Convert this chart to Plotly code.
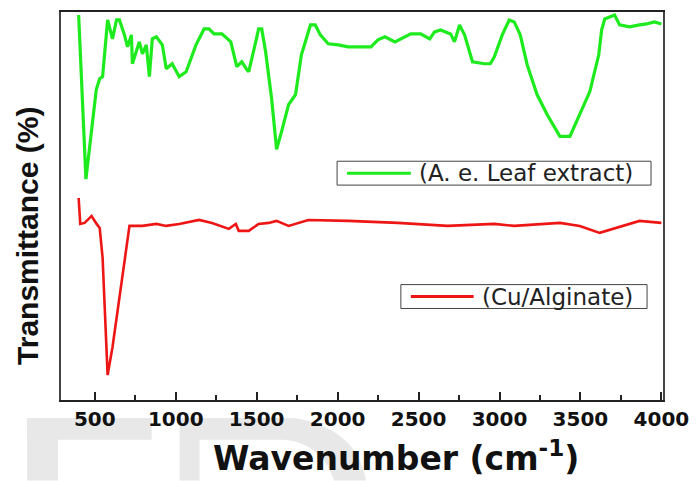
import plotly.graph_objects as go

# ---------------- data ----------------
wn_leaf = [400, 445, 509, 530, 548, 579, 609, 634, 652, 683, 702, 726, 732, 775, 794, 818,
           837, 855, 880, 917, 941, 978, 1021, 1064, 1125, 1175, 1205, 1236, 1285, 1340,
           1377, 1408, 1439, 1451, 1494, 1512, 1531, 1555, 1592, 1623, 1654, 1697, 1740,
           1776, 1832, 1862, 1893, 1942, 2004, 2065, 2145, 2206, 2249, 2292, 2354, 2452,
           2513, 2569, 2599, 2636, 2698, 2722, 2753, 2784, 2833, 2907, 2943, 2968, 3017,
           3060, 3091, 3128, 3171, 3232, 3294, 3373, 3435, 3496, 3558, 3613, 3631, 3650,
           3681, 3711, 3742, 3803, 3865, 3908, 3957, 4000]
t_leaf = [386, 221, 311, 322, 324, 381, 362, 381, 381, 366, 354, 366, 337, 359, 347, 356,
          324, 362, 364, 356, 332, 337, 324, 329, 356, 372, 372, 367, 367, 359,
          334, 339, 331, 329, 359, 372, 372, 349, 302, 251, 269, 296, 306,
          346, 376, 376, 366, 357, 356, 354, 354, 354, 361, 364, 359, 367,
          367, 362, 369, 371, 367, 359, 376, 366, 339, 337, 337, 344, 366,
          381, 379, 366, 336, 306, 286, 264, 264, 286, 309, 346, 371, 382,
          384, 386, 376, 374, 376, 377, 379, 377]

wn_cu = [400, 410, 437, 480, 511, 530, 548, 579, 609, 652, 714, 794, 880, 941, 1021, 1144,
         1224, 1328, 1371, 1389, 1451, 1512, 1574, 1623, 1697, 1819, 2065, 2372, 2679,
         2968, 3091, 3373, 3496, 3619, 3705, 3865, 4000]
t_cu = [202, 176, 177, 184, 176, 172, 142, 24, 52, 102, 174, 174, 176, 174, 176, 180,
        177, 171, 176, 169, 169, 176, 177, 179, 174, 180, 179, 177, 174,
        176, 174, 177, 174, 167, 171, 179, 177]

x_ticks = [500, 1000, 1500, 2000, 2500, 3000, 3500, 4000]
label_leaf = "(A. e. Leaf extract)"
label_cu = "(Cu/Alginate)"
green = "#1EEB1E"
red = "#EE1515"

# ---------------- geometry helpers (pixel -> paper) ----------------
W, H = 699, 481
L, R, T, B = 61, 665, 10, 400
def px(x):
    return (x - L) / (R - L)
def py(y):
    return (B - y) / (B - T)

fig = go.Figure()
fig.add_trace(go.Scatter(x=wn_leaf, y=t_leaf, mode="lines", name=label_leaf,
                         line=dict(color=green, width=3.2), showlegend=False))
fig.add_trace(go.Scatter(x=wn_cu, y=t_cu, mode="lines", name=label_cu,
                         line=dict(color=red, width=2.6), showlegend=False))

shapes = []
# faint watermark shapes at the bottom
wm = "#e8e8e8"
shapes.append(dict(type="rect", xref="paper", yref="paper", layer="below",
                   x0=px(27), x1=px(152), y0=py(418), y1=py(440),
                   fillcolor=wm, line=dict(width=0)))
shapes.append(dict(type="rect", xref="paper", yref="paper", layer="below",
                   x0=px(27), x1=px(58), y0=py(418), y1=py(481),
                   fillcolor=wm, line=dict(width=0)))
dpts = [("M", 180, 418), ("L", 295, 418), ("C", 340, 425, 362, 450, 367, 481),
        ("L", 335, 481), ("C", 328, 458, 310, 442, 285, 440), ("L", 200, 440),
        ("L", 200, 481), ("L", 180, 481)]
path = ""
for p in dpts:
    cmd = p[0]
    coords = p[1:]
    parts = []
    for i in range(0, len(coords), 2):
        parts.append(f"{px(coords[i]):.4f},{py(coords[i+1]):.4f}")
    path += cmd + " " + " ".join(parts) + " "
path += "Z"
shapes.append(dict(type="path", xref="paper", yref="paper", layer="below",
                   path=path, fillcolor=wm, line=dict(width=0)))

# custom legend boxes
def legend_box(x0, x1, y0, y1, lx0, lx1, color, text, tx):
    shapes.append(dict(type="rect", xref="paper", yref="paper",
                       x0=px(x0), x1=px(x1), y0=py(y1), y1=py(y0),
                       fillcolor="white", line=dict(color="#444", width=1)))
    ym = (y0 + y1) / 2
    shapes.append(dict(type="line", xref="paper", yref="paper",
                       x0=px(lx0), x1=px(lx1), y0=py(ym), y1=py(ym),
                       line=dict(color=color, width=3)))
    return dict(x=px(tx), y=py(ym), xref="paper", yref="paper", text=text,
                showarrow=False, xanchor="left", yanchor="middle",
                font=dict(family="DejaVu Sans", size=23, color="#222"))

annotations = []
annotations.append(legend_box(338, 653, 160, 184, 348, 412, green, label_leaf, 418))
annotations.append(legend_box(402, 649, 284, 308, 412, 475, red, label_cu, 481))

annotations.append(dict(x=px(397), y=py(480), xref="paper", yref="paper",
                        text="Wavenumber (cm<sup>-1</sup>)", showarrow=False,
                        xanchor="center", yanchor="bottom",
                        font=dict(family="DejaVu Sans", size=33, color="#111",
                                  weight="bold")))
annotations.append(dict(x=px(28), y=py(235), xref="paper", yref="paper",
                        text="Transmittance (%)", showarrow=False, textangle=-90,
                        xanchor="center", yanchor="middle",
                        font=dict(family="Liberation Sans", size=30, color="#111",
                                  weight="bold")))

fig.update_layout(
    width=W, height=H,
    margin=dict(l=L, r=W - R, t=T, b=H - B),
    paper_bgcolor="white", plot_bgcolor="white",
    shapes=shapes, annotations=annotations, showlegend=False,
    xaxis=dict(range=[291, 4010], tickvals=x_ticks,
               ticktext=[str(v) for v in x_ticks],
               ticks="inside", ticklen=8, tickwidth=1.5, tickcolor="#222",
               minor=dict(ticks="inside", ticklen=5, tickwidth=1.5, tickcolor="#222",
                          tickvals=[750, 1250, 1750, 2250, 2750, 3250, 3750]),
               showline=True, linecolor="#222", linewidth=1.5, mirror=True,
               showgrid=False, zeroline=False,
               tickfont=dict(family="DejaVu Sans", size=20, color="#111", weight="bold")),
    yaxis=dict(range=[-1, 389], showticklabels=False, ticks="",
               showline=True, linecolor="#444", linewidth=1.5, mirror=True,
               showgrid=False, zeroline=False),
)

fig.write_html("out.html")
